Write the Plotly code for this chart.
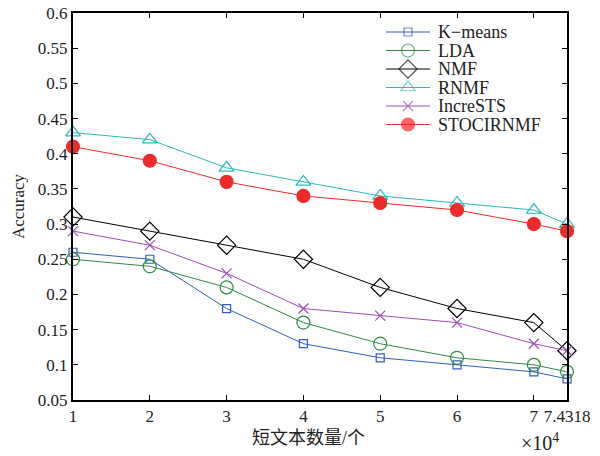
import plotly.graph_objects as go

# Number of short texts (×10^4)
x_vals = [1, 2, 3, 4, 5, 6, 7, 7.4318]
x_ticktext = ["1", "2", "3", "4", "5", "6", "7", "7.4318"]

kmeans = [0.26, 0.25, 0.18, 0.13, 0.11, 0.10, 0.09, 0.08]
lda = [0.25, 0.24, 0.21, 0.16, 0.13, 0.11, 0.10, 0.09]
nmf = [0.31, 0.29, 0.27, 0.25, 0.21, 0.18, 0.16, 0.12]
rnmf = [0.43, 0.42, 0.38, 0.36, 0.34, 0.33, 0.32, 0.30]
incrests = [0.29, 0.27, 0.23, 0.18, 0.17, 0.16, 0.13, 0.12]
stocirnmf = [0.41, 0.39, 0.36, 0.34, 0.33, 0.32, 0.30, 0.29]

y_tickvals = [0.05, 0.1, 0.15, 0.2, 0.25, 0.3, 0.35, 0.4, 0.45, 0.5, 0.55, 0.6]
y_ticktext = ["0.05", "0.1", "0.15", "0.2", "0.25", "0.3", "0.35", "0.4", "0.45", "0.5", "0.55", "0.6"]

SERIF = "'Liberation Serif', 'Times New Roman', Times, serif"
CJK = "'Liberation Serif', 'Noto Sans CJK SC', sans-serif"
TXT = "#222222"

series = [
    ("K\u2212means", kmeans, "#2f5fc0", dict(symbol="square-open", size=8)),
    ("LDA", lda, "#2e8b45", dict(symbol="circle-open", size=13)),
    ("NMF", nmf, "#000000", dict(symbol="diamond-open", size=14)),
    ("RNMF", rnmf, "#2bb8b8", dict(symbol="triangle-up-open", size=13)),
    ("IncreSTS", incrests, "#9b4fb0", dict(symbol="x-thin-open", size=10)),
    ("STOCIRNMF", stocirnmf, "#ee2a2a", dict(symbol="circle", size=13)),
]

fig = go.Figure()
for name, ys, color, mk in series:
    fig.add_trace(go.Scatter(
        x=x_vals, y=ys, name=name, mode="lines+markers",
        line=dict(color=color, width=1),
        marker=dict(color=color, line=dict(color=color, width=1.2), **mk),
        cliponaxis=False, showlegend=False,
    ))

# Legend drawn on a hidden overlay axis measured in pixels of the plot area
L, R, T, B = 73, 567, 13, 400
leg_rows = [32, 50.5, 69, 87.5, 106, 124.5]
leg_x0, leg_x1, leg_text = 386, 430, 436
for (name, ys, color, mk), ry in zip(series, leg_rows):
    fig.add_trace(go.Scatter(
        x=[leg_x0, (leg_x0 + leg_x1) / 2, leg_x1], y=[ry, ry, ry],
        xaxis="x2", yaxis="y2", mode="lines+markers",
        line=dict(color=color, width=1),
        marker=dict(color=color, line=dict(color=color, width=1.2),
                    size=[0, mk["size"], 0], symbol=mk["symbol"]),
        showlegend=False, hoverinfo="skip", cliponaxis=False,
    ))
    fig.add_annotation(text=name, x=leg_text, y=ry, xref="x2", yref="y2",
                       xanchor="left", yanchor="middle", showarrow=False,
                       font=dict(family=SERIF, size=18, color=TXT))

axis_common = dict(
    showline=True, linecolor="black", linewidth=2, mirror="allticks",
    ticks="inside", ticklen=5, tickwidth=1, tickcolor="black",
    showgrid=False, zeroline=False, automargin=False,
    tickfont=dict(family=SERIF, size=17, color=TXT),
)

fig.update_layout(
    width=600, height=456,
    margin=dict(l=L, r=600 - R, t=T, b=456 - B),
    paper_bgcolor="white", plot_bgcolor="white",
    font=dict(family=SERIF, size=17, color=TXT),
    xaxis=dict(range=[1, 7.4318], tickmode="array", tickvals=x_vals, ticktext=x_ticktext,
               **axis_common),
    yaxis=dict(range=[0.05, 0.6], tickmode="array", tickvals=y_tickvals, ticktext=y_ticktext,
               title=dict(text="Accuracy", font=dict(family=SERIF, size=17, color=TXT), standoff=9),
               **axis_common),
    xaxis2=dict(range=[L, R], overlaying="x", visible=False, fixedrange=True),
    yaxis2=dict(range=[B, T], overlaying="y", visible=False, fixedrange=True),
    showlegend=False,
)

# x-axis title
fig.add_annotation(text="短文本数量/个", x=(308.5 - L) / (R - L), y=(B - 438) / (B - T),
                   xref="paper", yref="paper", xanchor="center", yanchor="middle",
                   showarrow=False, font=dict(family=CJK, size=18, color=TXT))

# scale factor of the x axis
fig.add_annotation(text="×10<sup>4</sup>", x=(561 - L) / (R - L), y=(B - 428) / (B - T),
                   xref="paper", yref="paper",
                   xanchor="right", yanchor="top", showarrow=False,
                   font=dict(family=SERIF, size=20, color=TXT))

fig.write_html("out.html")
